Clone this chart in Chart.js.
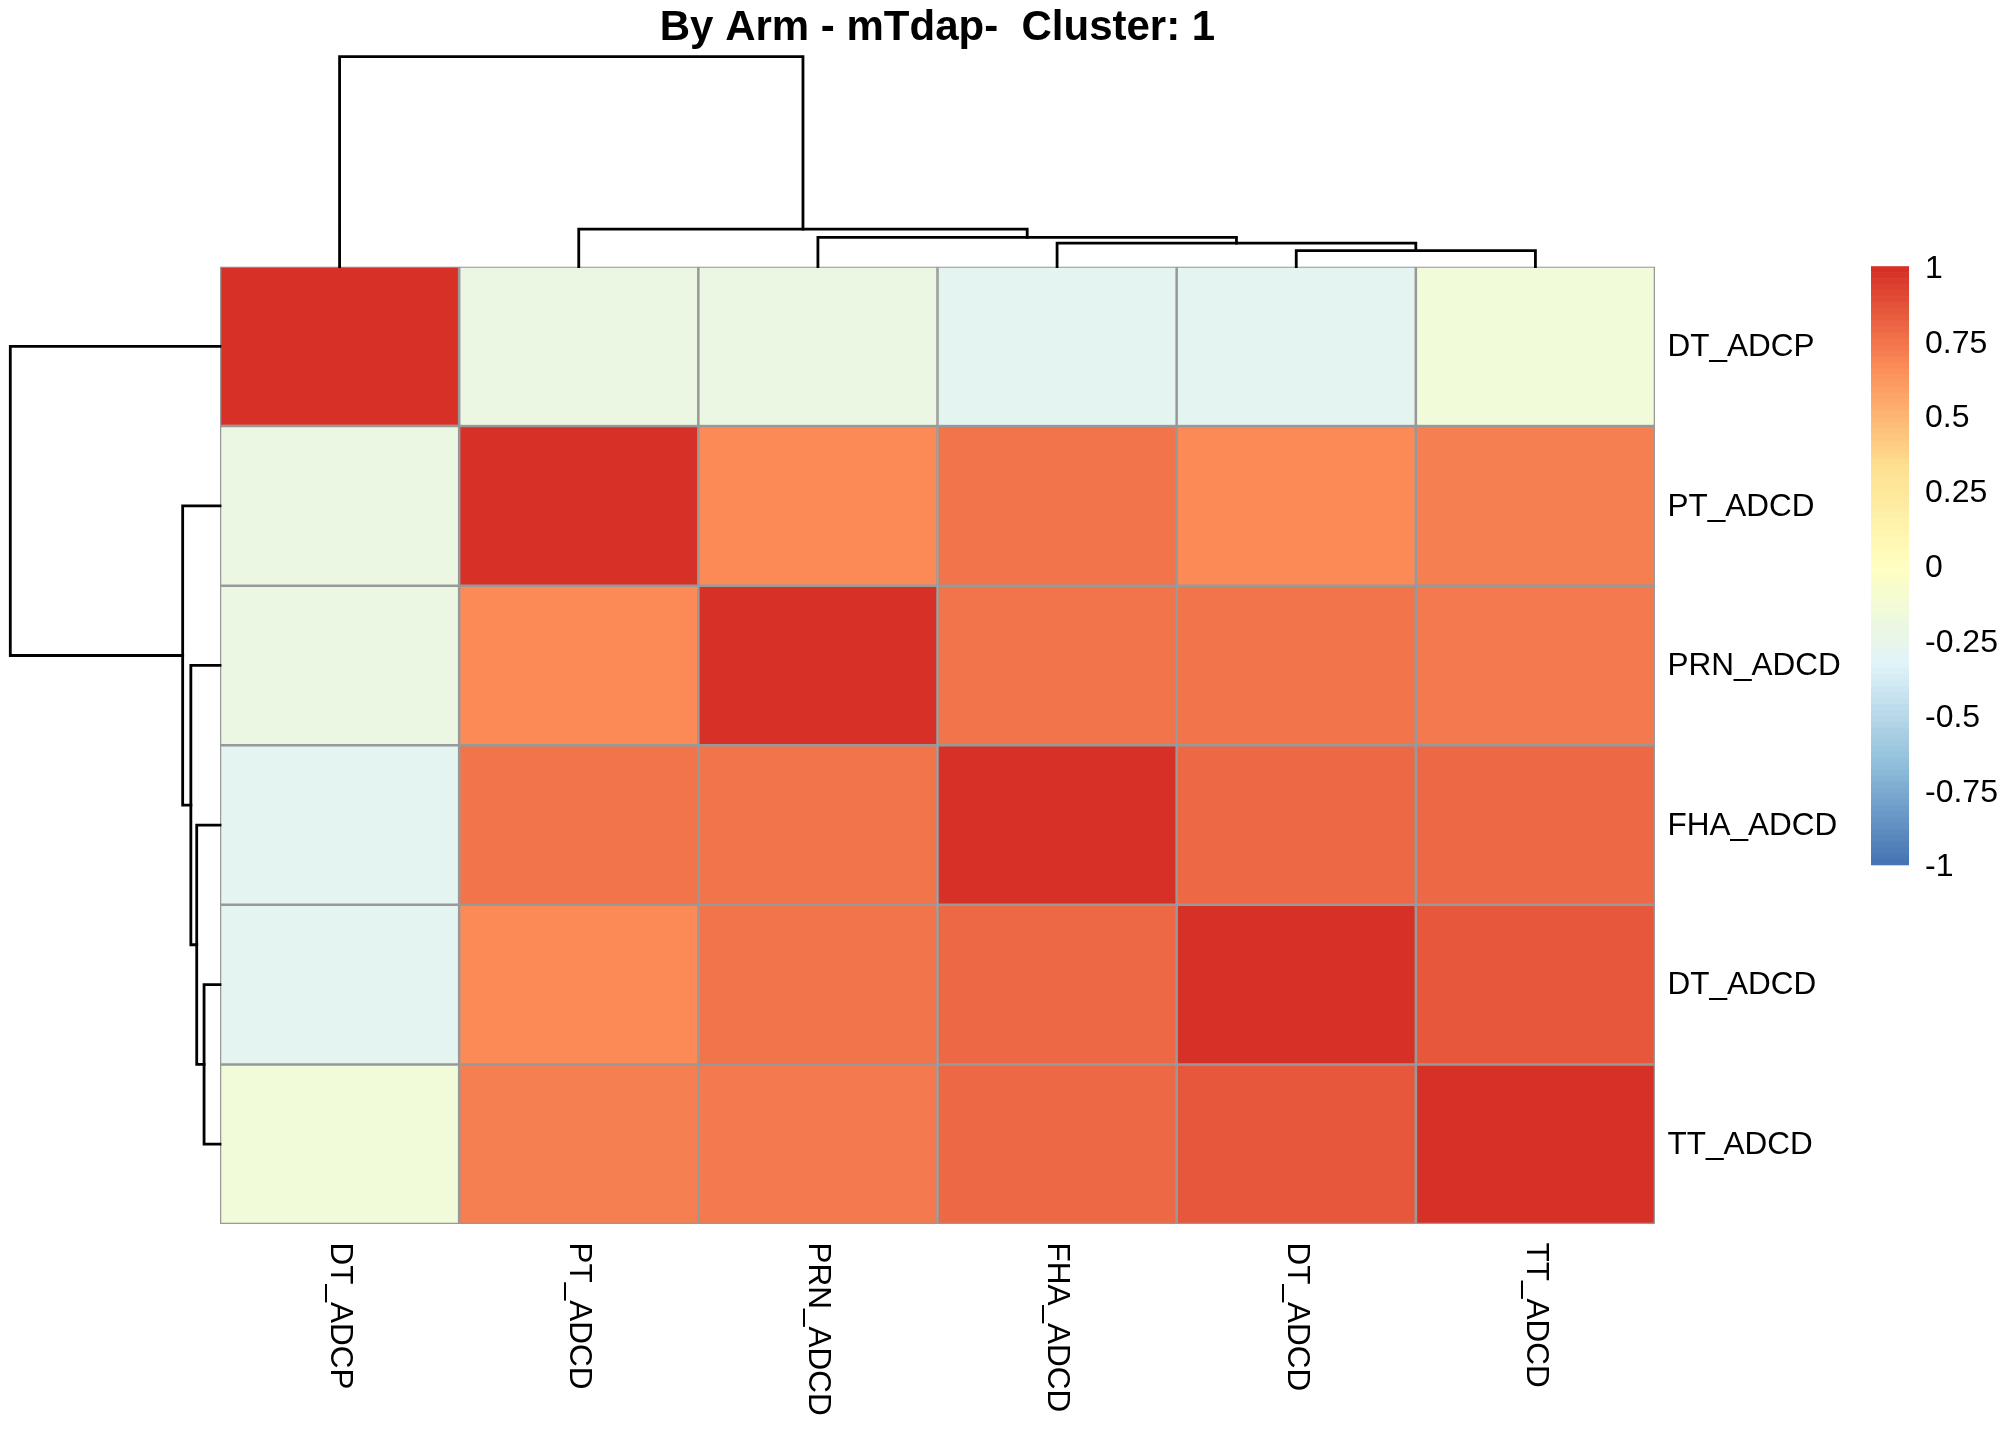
<!DOCTYPE html>
<html>
<head>
<meta charset="utf-8">
<script src="https://cdn.jsdelivr.net/npm/chart.js@4/dist/chart.umd.min.js"></script>
<style>
  html, body { margin: 0; padding: 0; background: #fff; }
  canvas { display: block; }
</style>
</head>
<body>
<canvas id="heatmap" width="2016" height="1440"></canvas>
<script>
// variables, in clustered order (rows and columns are the same)
const varNames = ["DT_ADCP", "PT_ADCD", "PRN_ADCD", "FHA_ADCD", "DT_ADCD", "TT_ADCD"];

// correlation rows
const corrDT_ADCP  = [1.00, -0.22, -0.21, -0.29, -0.29, -0.16];
const corrPT_ADCD  = [-0.22, 1.00, 0.66, 0.74, 0.66, 0.70];
const corrPRN_ADCD = [-0.21, 0.66, 1.00, 0.75, 0.745, 0.72];
const corrFHA_ADCD = [-0.29, 0.74, 0.75, 1.00, 0.79, 0.785];
const corrDT_ADCD  = [-0.29, 0.66, 0.745, 0.79, 1.00, 0.855];
const corrTT_ADCD  = [-0.16, 0.70, 0.72, 0.785, 0.855, 1.00];

// dendrogram: merges (numbers = leaves, "mN" = earlier merge) and heights
const treeMerges = [[4, 5], [3, "m0"], [2, "m1"], [1, "m2"], [0, "m3"]];
const treeHeights = [0.076, 0.111, 0.139, 0.178, 1.0];

// colour legend
const legendTicks = [1, 0.75, 0.5, 0.25, 0, -0.25, -0.5, -0.75, -1];
const paletteStops = ["#4575B4", "#91BFDB", "#E0F3F8", "#FFFFBF", "#FEE090", "#FC8D59", "#D73027"];

const matrix = [corrDT_ADCP, corrPT_ADCD, corrPRN_ADCD, corrFHA_ADCD, corrDT_ADCD, corrTT_ADCD];

// like colorRampPalette(...)(100)
function hexToRgb(h) {
  return [parseInt(h.slice(1, 3), 16), parseInt(h.slice(3, 5), 16), parseInt(h.slice(5, 7), 16)];
}
const nColors = 100;
const palette = [];
for (let j = 0; j < nColors; j++) {
  const p = j / (nColors - 1) * (paletteStops.length - 1);
  const k = Math.min(Math.floor(p), paletteStops.length - 2);
  const t = p - k;
  const a = hexToRgb(paletteStops[k]), b = hexToRgb(paletteStops[k + 1]);
  const c = a.map((v, i) => Math.round(v + (b[i] - v) * t));
  palette.push("rgb(" + c.join(",") + ")");
}
function colorFor(v) {
  const idx = Math.max(0, Math.min(nColors - 1, Math.floor((v + 1) / 2 * nColors)));
  return palette[idx];
}

const FONT = "'Liberation Sans', Arial, Helvetica, sans-serif";
Chart.defaults.font.family = FONT;
Chart.defaults.color = "#000";

const datasets = matrix.map((row, r) => ({
  label: varNames[r],
  data: row.map(() => [r, r + 1]),
  backgroundColor: row.map(colorFor),
  borderColor: "#999999",
  borderWidth: 1.6,
  borderSkipped: false,
  barPercentage: 1,
  categoryPercentage: 1,
  grouped: false,
}));

function drawTree(ctx, posToPx) {
  const pos = [], hgt = [];
  const get = (c) => typeof c === "number" ? [c, 0] : [pos[+c.slice(1)], hgt[+c.slice(1)]];
  ctx.save();
  ctx.strokeStyle = "#000";
  ctx.lineWidth = 2.8;
  ctx.lineCap = "square";
  treeMerges.forEach((m, i) => {
    const [p1, h1] = get(m[0]);
    const [p2, h2] = get(m[1]);
    const h = treeHeights[i];
    pos[i] = (p1 + p2) / 2;
    hgt[i] = h;
    ctx.beginPath();
    const a = posToPx(p1, h1), b = posToPx(p1, h), c = posToPx(p2, h), d = posToPx(p2, h2);
    ctx.moveTo(a[0], a[1]);
    ctx.lineTo(b[0], b[1]);
    ctx.lineTo(c[0], c[1]);
    ctx.lineTo(d[0], d[1]);
    ctx.stroke();
  });
  ctx.restore();
}

const extras = {
  id: "extras",
  afterDraw(chart) {
    const ctx = chart.ctx;
    const area = chart.chartArea;
    const xs = chart.scales.x, ys = chart.scales.y;
    const hMax = Math.max(...treeHeights);

    // column dendrogram (above)
    const topRoot = 56.6;
    drawTree(ctx, (p, h) => [
      xs.getPixelForValue(p),
      area.top - h / hMax * (area.top - topRoot),
    ]);
    // row dendrogram (left)
    const leftRoot = 10.3;
    drawTree(ctx, (p, h) => [
      area.left - h / hMax * (area.left - leftRoot),
      ys.getPixelForValue(p + 0.5),
    ]);

    ctx.save();
    ctx.fillStyle = "#000";
    ctx.font = "31.5px " + FONT;
    // row labels
    ctx.textAlign = "left";
    ctx.textBaseline = "middle";
    varNames.forEach((n, i) => {
      ctx.fillText(n, area.right + 12.5, ys.getPixelForValue(i + 0.5) + 1);
    });
    // column labels, rotated
    varNames.forEach((n, i) => {
      ctx.save();
      ctx.translate(xs.getPixelForValue(i), area.bottom + 18.5);
      ctx.rotate(Math.PI / 2);
      ctx.textAlign = "left";
      ctx.textBaseline = "middle";
      ctx.fillText(n, 0, 0);
      ctx.restore();
    });

    // colour legend
    const lx = 1871, lw = 38, ltop = 266.5, lbot = 865;
    const step = (lbot - ltop) / nColors;
    palette.forEach((c, j) => {
      ctx.fillStyle = c;
      ctx.fillRect(lx, lbot - (j + 1) * step - 0.3, lw, step + 0.6);
    });
    ctx.fillStyle = "#000";
    ctx.font = "32px " + FONT;
    legendTicks.forEach((v) => {
      const y = ltop + (1 - v) / 2 * (lbot - ltop) + 2.5;
      ctx.fillText(String(v), 1925, y);
    });
    ctx.restore();
  },
};

new Chart(document.getElementById("heatmap").getContext("2d"), {
  type: "bar",
  data: { labels: varNames, datasets: datasets },
  options: {
    responsive: false,
    devicePixelRatio: 1,
    animation: false,
    layout: { padding: { left: 220, right: 361, top: 0, bottom: 216 } },
    scales: {
      x: { type: "category", display: false, offset: true },
      y: { type: "linear", display: false, min: 0, max: 6, reverse: true },
    },
    plugins: {
      legend: { display: false },
      tooltip: { enabled: false },
      title: {
        display: true,
        text: "By Arm - mTdap-  Cluster: 1",
        font: { size: 42, weight: "bold", family: FONT },
        color: "#000",
        padding: { top: 3, bottom: 213.1 },
      },
    },
  },
  plugins: [extras],
});
</script>
</body>
</html>
